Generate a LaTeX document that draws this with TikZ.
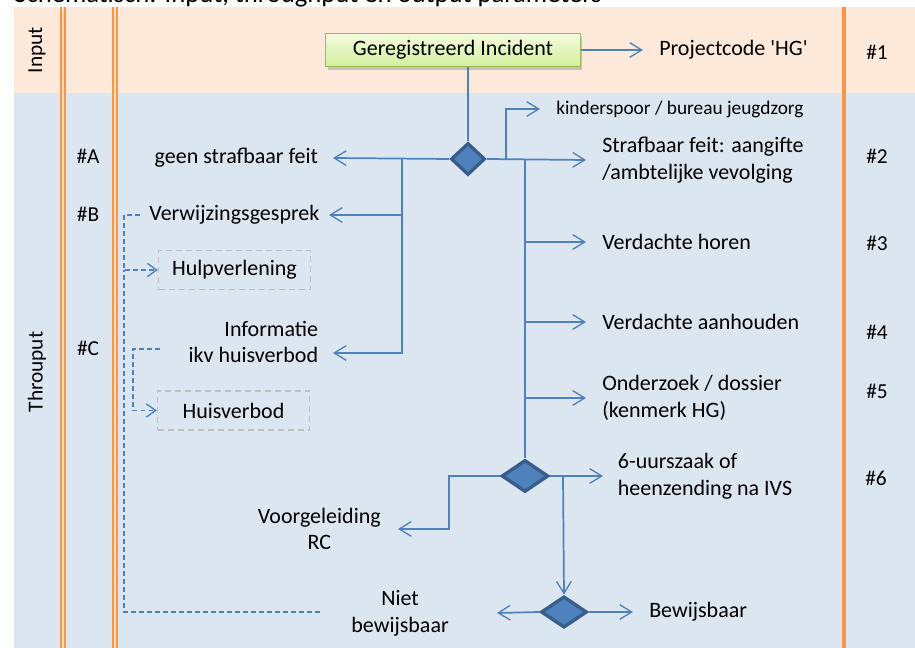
\documentclass[tikz,border=0pt]{standalone}
\usepackage{fontspec}
\setmainfont{Carlito}[Ligatures=TeXOff]
\usetikzlibrary{arrows.meta,shapes.geometric,shadows}
\definecolor{pinkbg}{HTML}{FDE9D9}
\definecolor{bluebg}{HTML}{DCE6F1}
\definecolor{orng}{HTML}{F79646}
\definecolor{lblue}{HTML}{4F81BD}
\definecolor{dblue}{HTML}{385D8A}
\definecolor{gbord}{HTML}{9BBB59}
\definecolor{gtop}{HTML}{F3FBDC}
\definecolor{gbot}{HTML}{D4EF9E}
\begin{document}
\begin{tikzpicture}[x=0.75pt,y=-0.75pt,
  lbl/.style={font=\fontsize{16.5}{20}\selectfont, inner ysep=1pt},
  small/.style={font=\fontsize{14.5}{17}\selectfont, inner ysep=1pt},
  arr/.style={draw=lblue, line width=1.3pt, -{Straight Barb[length=9pt,width=11pt,line width=1pt]}},
  ln/.style={draw=lblue, line width=1.3pt},
  dsh/.style={draw=lblue, line width=1pt, dash pattern=on 3.5pt off 2.5pt},
  dsharr/.style={dsh, -{Straight Barb[length=7pt,width=10pt,line width=1pt]}},
  dec/.style={diamond, fill=lblue, draw=dblue, line width=2.5pt, inner sep=0pt},
  gbox/.style={draw=black!25, line width=1.1pt, dash pattern=on 4.5pt off 3pt,
    minimum width=114pt, minimum height=29.5pt, inner sep=0pt, font=\fontsize{16.5}{20}\selectfont},
  incbox/.style={draw=gbord, line width=1.1pt, top color=gtop, bottom color=gbot,
    minimum width=191pt, minimum height=24.5pt, inner sep=0pt, font=\fontsize{16.5}{20}\selectfont,
    drop shadow={shadow xshift=1.5pt, shadow yshift=-2.5pt, fill=black!40}},
  side/.style={font=\fontsize{16}{20}\selectfont, inner sep=0pt},
  lane/.style={rotate=90, font=\fontsize{16}{20}\selectfont, inner sep=0pt}
]
\useasboundingbox (0,0) rectangle (915,648);
\clip (0,0) rectangle (915,648);
\fill[white] (0,0) rectangle (915,648);
% bands
\fill[pinkbg] (14,7) rectangle (915,93);
\fill[bluebg] (14,93) rectangle (915,648);
% orange lines
\foreach \xx in {63,115}{
  \draw[orng, line width=4.5pt] (\xx,7) -- (\xx,648);
  \draw[orng!35, line width=1.1pt] (\xx,7) -- (\xx,648);
}
\draw[orng, line width=3pt] (844,7) -- (844,648);
% title (cut off at top, as in the reference)
\node[anchor=base west, font=\fontsize{20}{24}\selectfont, inner sep=0pt] (title) at (14,3) {Schematisch: Input, throughput en output parameters};
% lane labels
\node[lane] (inp) at (37,50) {Input};
\node[lane] (thr) at (37,372) {Throuput};
\node[side] (hA) at (88,156) {\#A};
\node[side] (hB) at (88,214) {\#B};
\node[side] (hC) at (88,348) {\#C};
\node[side] (h1) at (877,52) {\#1};
\node[side] (h2) at (877,156) {\#2};
\node[side] (h3) at (877,243) {\#3};
\node[side] (h4) at (877,332) {\#4};
\node[side] (h5) at (877,391) {\#5};
\node[side] (h6) at (876,478) {\#6};
% main nodes
\node[incbox] (inc) at (453,50) {Geregistreerd Incident};
\node[lbl, anchor=west, inner xsep=12pt] (pc) at (643,50) {Projectcode 'HG'};
\node[dec, minimum width=25.5pt, minimum height=24pt] (d1) at (468,159) {};
\node[small, anchor=west, inner xsep=12pt] (kj) at (540,109) {kinderspoor / bureau jeugdzorg};
\node[lbl, anchor=west, inner xsep=12pt, align=left] (sf) at (586,160) {Strafbaar feit: aangifte\\/ambtelijke vevolging};
\node[lbl, anchor=west, inner xsep=12pt] (vh) at (586,242) {Verdachte horen};
\node[lbl, anchor=west, inner xsep=12pt] (va) at (586,322) {Verdachte aanhouden};
\node[lbl, anchor=west, inner xsep=12pt, align=left] (od) at (586,398) {Onderzoek / dossier\\(kenmerk HG)};
\node[dec, minimum width=35pt, minimum height=24pt] (d2) at (525,476) {};
\node[lbl, anchor=west, inner xsep=11pt, align=left] (uur) at (603,476) {6-uurszaak of\\heenzending na IVS};
\node[lbl, anchor=east, inner xsep=12.75pt, align=center] (vg) at (398,529) {Voorgeleiding\\RC};
\node[dec, minimum width=34.5pt, minimum height=23.5pt] (d3) at (564,612) {};
\node[lbl, anchor=west, inner xsep=12pt] (bw) at (633,612) {Bewijsbaar};
\node[lbl, anchor=east, inner xsep=36pt, align=center] (nb) at (497,613) {Niet\\bewijsbaar};
\node[lbl, anchor=east, inner xsep=11pt] (gs) at (333,158) {geen strafbaar feit};
\node[lbl, anchor=east, inner xsep=7pt] (vw) at (329,215) {Verwijzingsgesprek};
\node[lbl, anchor=east, inner xsep=11pt, align=right] (inf) at (333,342) {Informatie\\ikv huisverbod};
\node[gbox] (hv) at (234.5,270) {Hulpverlening};
\node[gbox] (hb) at (233.5,410.5) {Huisverbod};
% helper coordinates
\coordinate (b1) at (402,159);
\coordinate (k1) at (506,159);
\coordinate (m1) at (525,159);
\coordinate (v1) at (449,476);
\coordinate (s1) at (563,476);
\coordinate (h1c) at (124,270);
\coordinate (nbl) at (320,612);
\coordinate (i1) at (160,349);
\coordinate (i2) at (133,410.5);
% connectors
\draw[arr] (inc.east) -- (pc.west);
\draw[ln] (d1.north |- inc.south) -- (d1.north);
\draw[arr] (d1.west) -- (gs.east);
\draw[arr] (b1) |- (vw.east);
\draw[arr] (b1) |- ([yshift=-8.25pt]inf.east);
\draw[arr] (d1.east) -- (sf.west);
\draw[arr] (k1) |- (kj.west);
\draw[arr] (m1) |- (vh.west);
\draw[arr] (m1) |- (va.west);
\draw[arr] (m1) |- (od.west);
\draw[ln] (m1) -- (d2.north);
\draw[arr] (d2.east) -- (uur.west);
\draw[arr] (d2.west) -- (v1) |- (vg.east);
\draw[arr] (s1) -- (d3.north);
\draw[arr] (d3.east) -- (bw.west);
\draw[arr] (d3.west) -- (nb.east);
% dashed connectors
\draw[dsharr] (vw.west) -| (h1c) -- (hv.west);
\draw[dsh] (nbl) -| (h1c);
\draw[dsharr] (i1) -| (i2) -- (hb.west);
\end{tikzpicture}
\end{document}
